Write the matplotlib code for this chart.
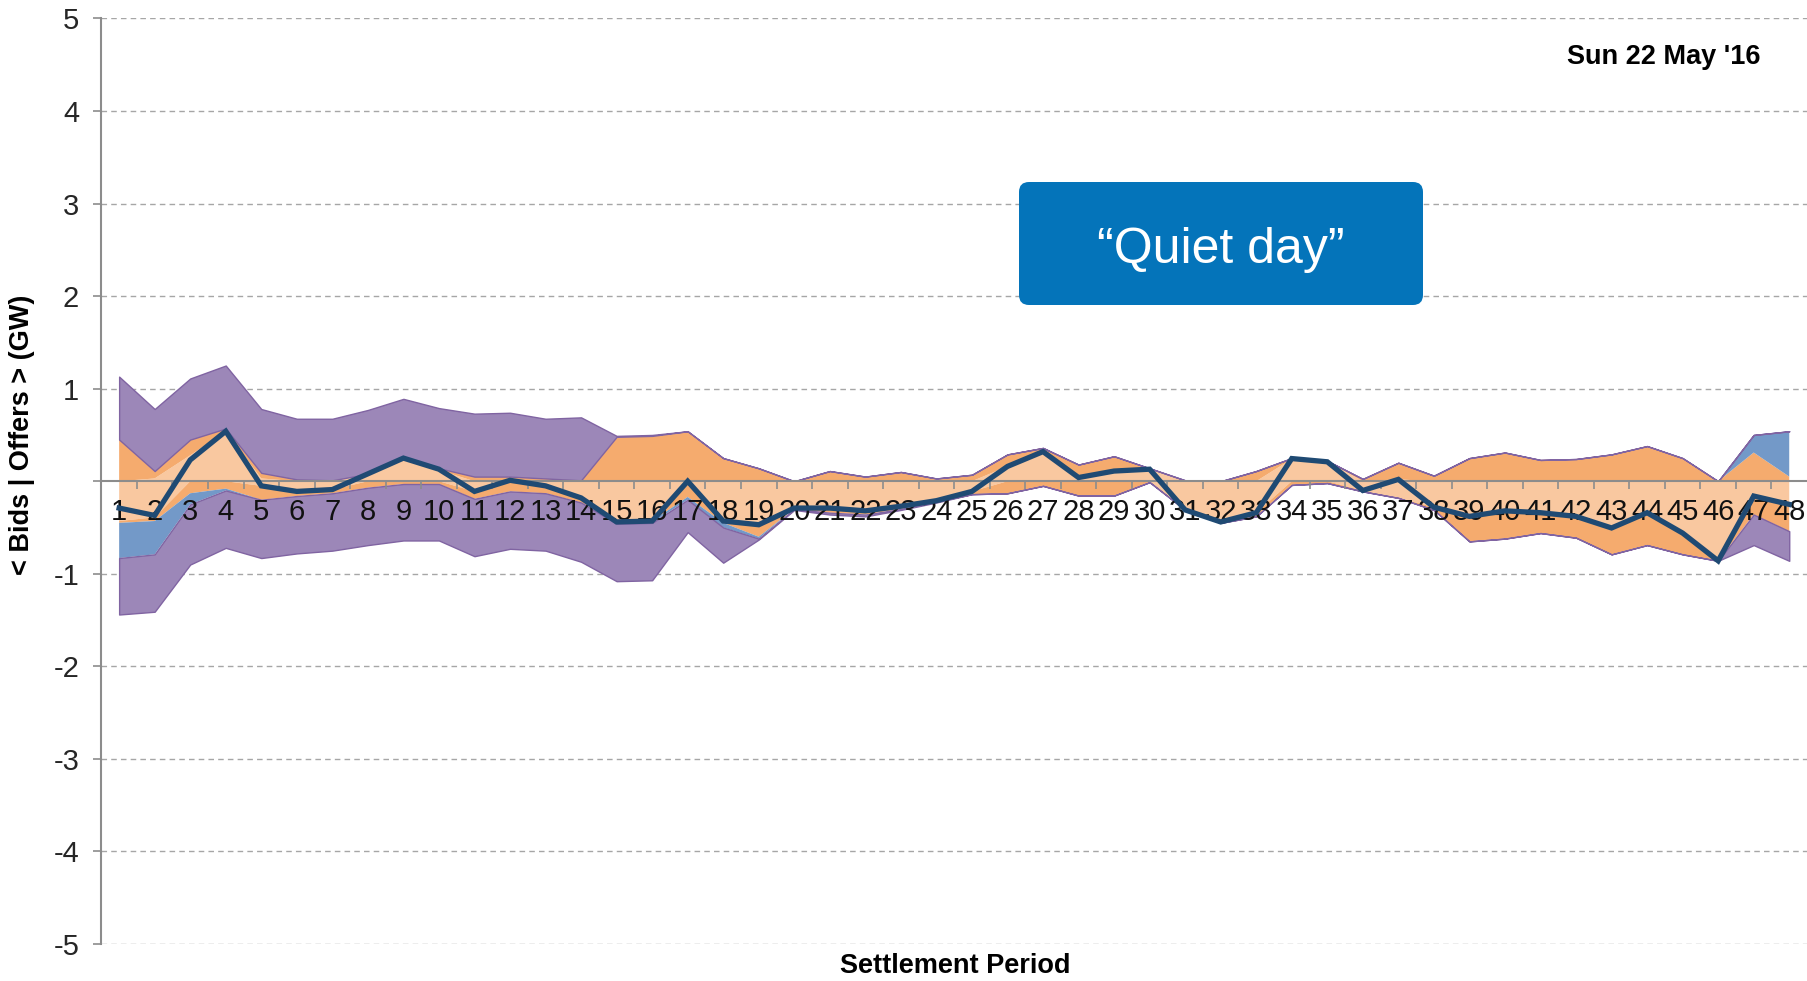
import numpy as np
import matplotlib.pyplot as plt
from matplotlib.patches import FancyBboxPatch
from matplotlib.transforms import IdentityTransform

plt.rcParams['font.family'] = ['Liberation Sans', 'DejaVu Sans']

# settlement periods 1..48
periods = np.arange(1, 49)

# offers (GW, stacked upwards from zero)
offer_peach = [0, 0.03, 0.28, 0.54, 0.03, 0, 0, 0.08, 0.25, 0.12, 0, 0.01,
               0, 0, 0, 0, 0, 0, 0, 0, 0, 0, 0, 0,
               0, 0.16, 0.32, 0.04, 0.11, 0.13, 0, 0, 0, 0.24, 0.21, 0,
               0.02, 0, 0, 0, 0, 0, 0, 0, 0, 0, 0, 0]
offer_orange = [0.45, 0.08, 0.17, 0.03, 0.06, 0.02, 0.01, 0, 0, 0.02, 0.05, 0.04,
                0.03, 0.01, 0.48, 0.49, 0.54, 0.25, 0.14, 0, 0.11, 0.05, 0.10, 0.03,
                0.07, 0.13, 0.04, 0.14, 0.16, 0.01, 0.01, 0, 0.11, 0.01, 0.01, 0.025,
                0.18, 0.06, 0.25, 0.31, 0.23, 0.24, 0.29, 0.38, 0.25, 0, 0.31, 0.05]
offer_blue = [0] * 46 + [0.19, 0.49]
offer_purple = [0.68, 0.67, 0.66, 0.68, 0.69, 0.655, 0.665, 0.69, 0.64, 0.65, 0.68, 0.69,
                0.645, 0.68, 0.01, 0.01] + [0] * 32

# bids (GW, stacked downwards from zero)
bid_peach = [0.43, 0.39, 0, 0, 0.05, 0.11, 0.09, 0, 0, 0, 0.11, 0,
             0.05, 0.18, 0.44, 0.43, 0, 0.43, 0.47, 0.29, 0.29, 0.32, 0.27, 0.20,
             0.11, 0, 0, 0, 0, 0, 0.31, 0.44, 0.34, 0, 0, 0.10,
             0.18, 0.28, 0.38, 0.31, 0.34, 0.38, 0.505, 0.34, 0.56, 0.86, 0.16, 0.25]
bid_orange = [0.02, 0.04, 0.13, 0.08, 0.15, 0.05, 0.04, 0.07, 0.03, 0.03, 0.08, 0.11,
              0.08, 0.05, 0, 0, 0.17, 0.02, 0.13, 0.01, 0.05, 0.04, 0.03, 0.02,
              0.03, 0.13, 0.05, 0.155, 0.155, 0.01, 0, 0.01, 0.04, 0.04, 0.02, 0.01,
              0, 0.03, 0.27, 0.31, 0.22, 0.23, 0.285, 0.35, 0.23, 0, 0.20, 0.29]
bid_blue = [0.38, 0.36, 0.12, 0.02, 0, 0, 0, 0, 0, 0, 0, 0,
            0, 0, 0.02, 0.02, 0.03, 0.05, 0.02] + [0] * 29
bid_purple = [0.61, 0.62, 0.65, 0.62, 0.63, 0.62, 0.62, 0.62, 0.61, 0.61, 0.62, 0.62,
              0.62, 0.64, 0.62, 0.62, 0.35, 0.38, 0.01, 0.01, 0.02, 0.02, 0.01, 0.01,
              0, 0, 0, 0, 0, 0, 0, 0, 0, 0, 0, 0,
              0, 0, 0, 0, 0, 0, 0, 0, 0, 0, 0.33, 0.32]

# net imbalance line
net = [-0.29, -0.37, 0.23, 0.54, -0.05, -0.11, -0.09, 0.08, 0.25, 0.13, -0.11, 0.01,
       -0.05, -0.18, -0.44, -0.43, 0.0, -0.43, -0.47, -0.29, -0.29, -0.32, -0.27, -0.21,
       -0.11, 0.16, 0.32, 0.04, 0.11, 0.13, -0.31, -0.44, -0.34, 0.245, 0.21, -0.10,
       0.02, -0.28, -0.38, -0.32, -0.34, -0.38, -0.505, -0.34, -0.56, -0.86, -0.16, -0.25]

layer_colors = ['#F9C8A0', '#F5AB6E', '#7399C8', '#9C87B8']
layer_edges = ['none', 'none', 'none', '#8064A2']

fig = plt.figure(figsize=(18.07, 9.81), dpi=100)
ax = fig.add_axes([0.0561, 0.0377, 0.9439, 0.9435])

# stacked areas, offers up and bids down
for layers, sign in [([offer_peach, offer_orange, offer_blue, offer_purple], 1),
                     ([bid_peach, bid_orange, bid_blue, bid_purple], -1)]:
    base = np.zeros(len(periods))
    for vals, col, edge in zip(layers, layer_colors, layer_edges):
        top = base + sign * np.array(vals)
        ax.fill_between(periods, base, top, facecolor=col, edgecolor=edge,
                        linewidth=1.0 if edge != 'none' else 0, zorder=1)
        base = top

ax.plot(periods, net, color='#1F4A73', lw=3.8, zorder=3, solid_joinstyle='miter')

ax.set_xlim(0.5, 48.5)
ax.set_ylim(-5, 5)

yticks = list(range(-5, 6))
for y in yticks:
    if y != 0:
        ax.axhline(y, color='#A6A6A6', lw=1, ls=(0, (4, 3)), zorder=0.5)

ax.set_yticks(yticks)
ax.set_yticklabels(['' if y == 0 else str(y) for y in yticks])
ax.set_xticks(periods)
ax.set_xticklabels([str(p) for p in periods])
ax.set_xticks(np.arange(1.5, 48, 1), minor=True)

ax.tick_params(axis='y', which='major', length=6, width=1.2, color='#8C8C8C',
               labelsize=21, labelcolor='#262626', pad=10)
ax.tick_params(axis='x', which='major', length=0, labelsize=21, labelcolor='#111111', pad=12)
ax.tick_params(axis='x', which='minor', length=6, width=1.2, color='#8C8C8C', direction='out')

for s in ['top', 'right']:
    ax.spines[s].set_visible(False)
ax.spines['bottom'].set_position(('data', 0))
ax.spines['bottom'].set_color('#8C8C8C')
ax.spines['bottom'].set_linewidth(1.5)
ax.spines['bottom'].set_zorder(1.5)
ax.spines['left'].set_color('#8C8C8C')
ax.spines['left'].set_linewidth(1.5)

ax.set_ylabel('< Bids | Offers > (GW)', fontsize=19.5, fontweight='bold')
ax.yaxis.set_label_coords(-0.039, 0.55)

fig.text(0.5285, 0.0155, 'Settlement Period', ha='center', va='center',
         fontsize=19.5, fontweight='bold')
fig.text(0.974, 0.942, "Sun 22 May '16", ha='right', va='center',
         fontsize=19.5, fontweight='bold')

# callout box (pixel coords, figure saved at 100 dpi)
box = FancyBboxPatch((1019, 981 - 305), 404, 123,
                     boxstyle='round,pad=0,rounding_size=10',
                     transform=IdentityTransform(), facecolor='#0474BA',
                     edgecolor='none', zorder=5)
fig.patches.append(box)
fig.text(1221 / 1807, (981 - 250) / 981, '\u201cQuiet day\u201d', ha='center', va='center',
         fontsize=36, color='white', zorder=6)

fig.savefig('out.png', dpi=100)
